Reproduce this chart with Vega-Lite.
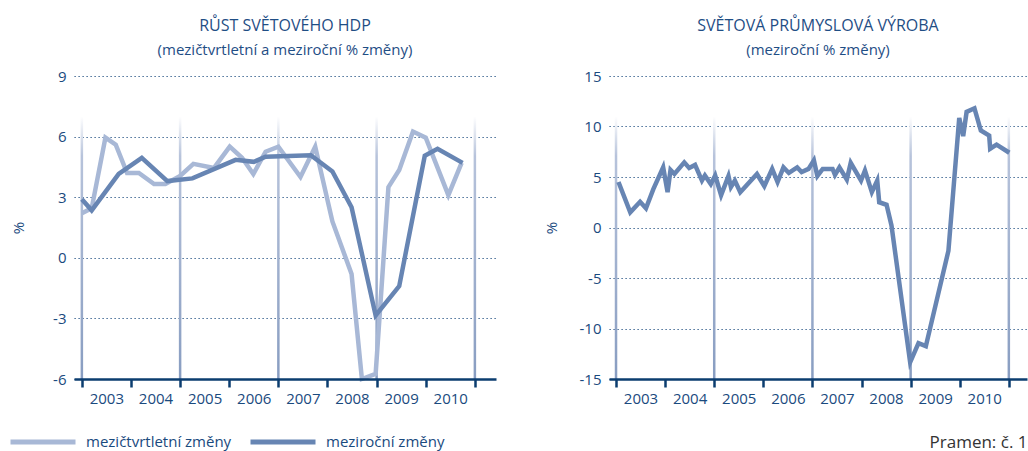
{
  "$schema": "https://vega.github.io/schema/vega-lite/v6.json",
  "background": "white",
  "padding": {"left": 8, "top": 18, "right": 0, "bottom": 0},
  "config": {
    "font": "Open Sans",
    "view": {"stroke": null},
    "concat": {"spacing": 44},
    "axis": {"labelFont": "Open Sans", "labelFontSize": 15, "labelColor": "#1a4a7e", "titleFont": "Open Sans", "titleFontSize": 15, "titleColor": "#1a4a7e", "titleFontWeight": "normal"},
    "title": {"font": "Open Sans", "fontSize": 16, "fontWeight": "normal", "color": "#1f4e85", "subtitleFont": "Open Sans", "subtitleFontSize": 15, "subtitleColor": "#1f4e85", "anchor": "middle", "frame": "group", "offset": 11, "subtitlePadding": 9}
  },
  "datasets": {
    "gridx": [{"year": 2003}, {"year": 2005}, {"year": 2007}, {"year": 2009}, {"year": 2011}],
    "gdp": [
      {"year": 2003.0, "value": 2.2, "series": "mezičtvrtletní změny"},
      {"year": 2003.2, "value": 2.45, "series": "mezičtvrtletní změny"},
      {"year": 2003.48, "value": 5.95, "series": "mezičtvrtletní změny"},
      {"year": 2003.69, "value": 5.6, "series": "mezičtvrtletní změny"},
      {"year": 2003.92, "value": 4.2, "series": "mezičtvrtletní změny"},
      {"year": 2004.16, "value": 4.2, "series": "mezičtvrtletní změny"},
      {"year": 2004.47, "value": 3.65, "series": "mezičtvrtletní změny"},
      {"year": 2004.7, "value": 3.65, "series": "mezičtvrtletní změny"},
      {"year": 2005.0, "value": 4.05, "series": "mezičtvrtletní změny"},
      {"year": 2005.27, "value": 4.65, "series": "mezičtvrtletní změny"},
      {"year": 2005.69, "value": 4.45, "series": "mezičtvrtletní změny"},
      {"year": 2006.01, "value": 5.5, "series": "mezičtvrtletní změny"},
      {"year": 2006.26, "value": 4.95, "series": "mezičtvrtletní změny"},
      {"year": 2006.49, "value": 4.15, "series": "mezičtvrtletní změny"},
      {"year": 2006.74, "value": 5.25, "series": "mezičtvrtletní změny"},
      {"year": 2007.0, "value": 5.5, "series": "mezičtvrtletní změny"},
      {"year": 2007.45, "value": 4.0, "series": "mezičtvrtletní změny"},
      {"year": 2007.75, "value": 5.5, "series": "mezičtvrtletní změny"},
      {"year": 2008.1, "value": 1.8, "series": "mezičtvrtletní změny"},
      {"year": 2008.49, "value": -0.8, "series": "mezičtvrtletní změny"},
      {"year": 2008.7, "value": -6.0, "series": "mezičtvrtletní změny"},
      {"year": 2008.98, "value": -5.75, "series": "mezičtvrtletní změny"},
      {"year": 2009.24, "value": 3.5, "series": "mezičtvrtletní změny"},
      {"year": 2009.46, "value": 4.35, "series": "mezičtvrtletní změny"},
      {"year": 2009.74, "value": 6.25, "series": "mezičtvrtletní změny"},
      {"year": 2010.0, "value": 5.95, "series": "mezičtvrtletní změny"},
      {"year": 2010.46, "value": 3.1, "series": "mezičtvrtletní změny"},
      {"year": 2010.73, "value": 4.7, "series": "mezičtvrtletní změny"},
      {"year": 2003.0, "value": 2.9, "series": "meziroční změny"},
      {"year": 2003.2, "value": 2.35, "series": "meziroční změny"},
      {"year": 2003.75, "value": 4.15, "series": "meziroční změny"},
      {"year": 2004.22, "value": 4.95, "series": "meziroční změny"},
      {"year": 2004.74, "value": 3.8, "series": "meziroční změny"},
      {"year": 2005.25, "value": 3.93, "series": "meziroční změny"},
      {"year": 2006.13, "value": 4.85, "series": "meziroční změny"},
      {"year": 2006.5, "value": 4.75, "series": "meziroční změny"},
      {"year": 2006.74, "value": 5.0, "series": "meziroční změny"},
      {"year": 2007.66, "value": 5.08, "series": "meziroční změny"},
      {"year": 2008.1, "value": 4.27, "series": "meziroční změny"},
      {"year": 2008.49, "value": 2.5, "series": "meziroční změny"},
      {"year": 2008.98, "value": -2.85, "series": "meziroční změny"},
      {"year": 2009.46, "value": -1.4, "series": "meziroční změny"},
      {"year": 2009.98, "value": 5.05, "series": "meziroční změny"},
      {"year": 2010.24, "value": 5.4, "series": "meziroční změny"},
      {"year": 2010.75, "value": 4.7, "series": "meziroční změny"}
    ],
    "ip": [
      {"year": 2003.05, "value": 4.5}, {"year": 2003.29, "value": 1.5}, {"year": 2003.49, "value": 2.55},
      {"year": 2003.61, "value": 1.9}, {"year": 2003.76, "value": 3.8}, {"year": 2003.96, "value": 5.95},
      {"year": 2004.05, "value": 3.5}, {"year": 2004.11, "value": 5.7}, {"year": 2004.19, "value": 5.3},
      {"year": 2004.39, "value": 6.45}, {"year": 2004.49, "value": 5.9}, {"year": 2004.61, "value": 6.2},
      {"year": 2004.75, "value": 4.65}, {"year": 2004.81, "value": 5.15}, {"year": 2004.93, "value": 4.3},
      {"year": 2005.02, "value": 5.15}, {"year": 2005.14, "value": 3.2}, {"year": 2005.29, "value": 5.1},
      {"year": 2005.34, "value": 4.0}, {"year": 2005.42, "value": 4.65}, {"year": 2005.53, "value": 3.5},
      {"year": 2005.87, "value": 5.3}, {"year": 2006.02, "value": 4.1}, {"year": 2006.18, "value": 5.8},
      {"year": 2006.29, "value": 4.5}, {"year": 2006.41, "value": 5.95}, {"year": 2006.52, "value": 5.4},
      {"year": 2006.69, "value": 5.95}, {"year": 2006.78, "value": 5.5}, {"year": 2006.92, "value": 5.8},
      {"year": 2007.03, "value": 6.65}, {"year": 2007.1, "value": 5.1}, {"year": 2007.21, "value": 5.8},
      {"year": 2007.41, "value": 5.8}, {"year": 2007.46, "value": 5.2}, {"year": 2007.55, "value": 5.95},
      {"year": 2007.7, "value": 4.75}, {"year": 2007.78, "value": 6.4}, {"year": 2007.99, "value": 4.65},
      {"year": 2008.07, "value": 5.65}, {"year": 2008.21, "value": 3.5}, {"year": 2008.32, "value": 4.65},
      {"year": 2008.36, "value": 2.5}, {"year": 2008.51, "value": 2.25}, {"year": 2008.61, "value": 0.2},
      {"year": 2008.99, "value": -13.35}, {"year": 2009.16, "value": -11.45}, {"year": 2009.31, "value": -11.75},
      {"year": 2009.77, "value": -2.3}, {"year": 2009.99, "value": 10.85}, {"year": 2010.07, "value": 9.05},
      {"year": 2010.14, "value": 11.45}, {"year": 2010.3, "value": 11.8}, {"year": 2010.43, "value": 9.6},
      {"year": 2010.6, "value": 9.1}, {"year": 2010.62, "value": 7.8}, {"year": 2010.75, "value": 8.2},
      {"year": 2011.01, "value": 7.4}
    ]
  },
  "hconcat": [
    {
      "width": 422,
      "height": 303,
      "title": {"text": "RŮST SVĚTOVÉHO HDP", "subtitle": "(mezičtvrtletní a meziroční % změny)"},
      "layer": [
        {
          "data": {"name": "gridx"},
          "mark": {"type": "bar", "width": 2.5, "fill": {"gradient": "linear", "x1": 0, "y1": 0, "x2": 0, "y2": 1, "stops": [{"offset": 0, "color": "#ffffff"}, {"offset": 0.15, "color": "#b7c3db"}, {"offset": 1, "color": "#889dc1"}]}},
          "encoding": {
            "x": {"field": "year", "type": "quantitative", "scale": {"domain": [2002.84, 2011.43], "nice": false, "zero": false, "padding": 0}, "title": ""},
            "y": {"datum": -6, "type": "quantitative", "scale": {"domain": [-6, 9], "nice": false, "zero": false, "padding": 0}, "title": "%"},
            "y2": {"datum": 7}
          }
        },
        {
          "data": {"name": "gdp"},
          "mark": {"type": "line", "strokeWidth": 4.5, "strokeJoin": "miter"},
          "encoding": {
            "x": {"field": "year", "type": "quantitative", "scale": {"domain": [2002.84, 2011.43], "nice": false, "zero": false, "padding": 0}, "title": "",
              "axis": {"values": [2003, 2004, 2005, 2006, 2007, 2008, 2009, 2010, 2011], "format": "d", "labelExpr": "datum.value >= 2011 ? '' : datum.label", "labelOffset": 24.5, "labelPadding": 4, "labelFlush": false, "labelOverlap": false, "tickSize": 8, "tickWidth": 2.5, "tickColor": "#0b3d6f", "domainColor": "#0b3d6f", "domainWidth": 2.5, "grid": false, "zindex": 1}},
            "y": {"field": "value", "type": "quantitative", "scale": {"domain": [-6, 9], "nice": false, "zero": false, "padding": 0}, "title": "%",
              "axis": {"values": [-6, -3, 0, 3, 6, 9], "labelExpr": "'' + datum.value", "domain": false, "ticks": false, "grid": true, "gridColor": "#1a4a7e", "gridDash": [1.2, 2.8], "gridWidth": 1.2, "labelPadding": 8, "titlePadding": 26}},
            "color": {"field": "series", "type": "nominal", "sort": ["mezičtvrtletní změny", "meziroční změny"],
              "scale": {"domain": ["mezičtvrtletní změny", "meziroční změny"], "range": ["#a8b8d6", "#6785b3"]},
              "legend": {"orient": "none", "legendX": -66, "legendY": 331, "direction": "horizontal", "title": null, "symbolType": "stroke", "symbolSize": 4225, "symbolStrokeWidth": 5, "labelFontSize": 15, "labelFont": "Open Sans", "labelColor": "#1a4a7e", "labelOffset": 8, "columnPadding": 8}}
          }
        }
      ]
    },
    {
      "width": 418,
      "height": 303,
      "title": {"text": "SVĚTOVÁ PRŮMYSLOVÁ VÝROBA", "subtitle": "(meziroční % změny)"},
      "layer": [
        {
          "data": {"name": "gridx"},
          "mark": {"type": "bar", "width": 2.5, "fill": {"gradient": "linear", "x1": 0, "y1": 0, "x2": 0, "y2": 1, "stops": [{"offset": 0, "color": "#ffffff"}, {"offset": 0.15, "color": "#b7c3db"}, {"offset": 1, "color": "#889dc1"}]}},
          "encoding": {
            "x": {"field": "year", "type": "quantitative", "scale": {"domain": [2002.857, 2011.37], "nice": false, "zero": false, "padding": 0}, "title": "Pramen: č. 1"},
            "y": {"datum": -15, "type": "quantitative", "scale": {"domain": [-15, 15], "nice": false, "zero": false, "padding": 0}, "title": "%"},
            "y2": {"datum": 11}
          }
        },
        {
          "data": {"name": "ip"},
          "mark": {"type": "line", "strokeWidth": 4.5, "strokeJoin": "miter", "color": "#6785b3"},
          "encoding": {
            "x": {"field": "year", "type": "quantitative", "scale": {"domain": [2002.857, 2011.37], "nice": false, "zero": false, "padding": 0}, "title": "Pramen: č. 1",
              "axis": {"values": [2003, 2004, 2005, 2006, 2007, 2008, 2009, 2010, 2011], "format": "d", "labelExpr": "datum.value >= 2011 ? '' : datum.label", "labelOffset": 24.5, "labelPadding": 4, "labelFlush": false, "labelOverlap": false, "tickSize": 8, "tickWidth": 2.5, "tickColor": "#0b3d6f", "domainColor": "#0b3d6f", "domainWidth": 2.5, "grid": false, "zindex": 1, "titleAnchor": "end", "titleColor": "#333333", "titleFontSize": 17, "titlePadding": 28}},
            "y": {"field": "value", "type": "quantitative", "scale": {"domain": [-15, 15], "nice": false, "zero": false, "padding": 0}, "title": "%",
              "axis": {"values": [-15, -10, -5, 0, 5, 10, 15], "labelExpr": "'' + datum.value", "domain": false, "ticks": false, "grid": true, "gridColor": "#1a4a7e", "gridDash": [1.2, 2.8], "gridWidth": 1.2, "labelPadding": 8, "titlePadding": 20}}
          }
        }
      ]
    }
  ]
}
